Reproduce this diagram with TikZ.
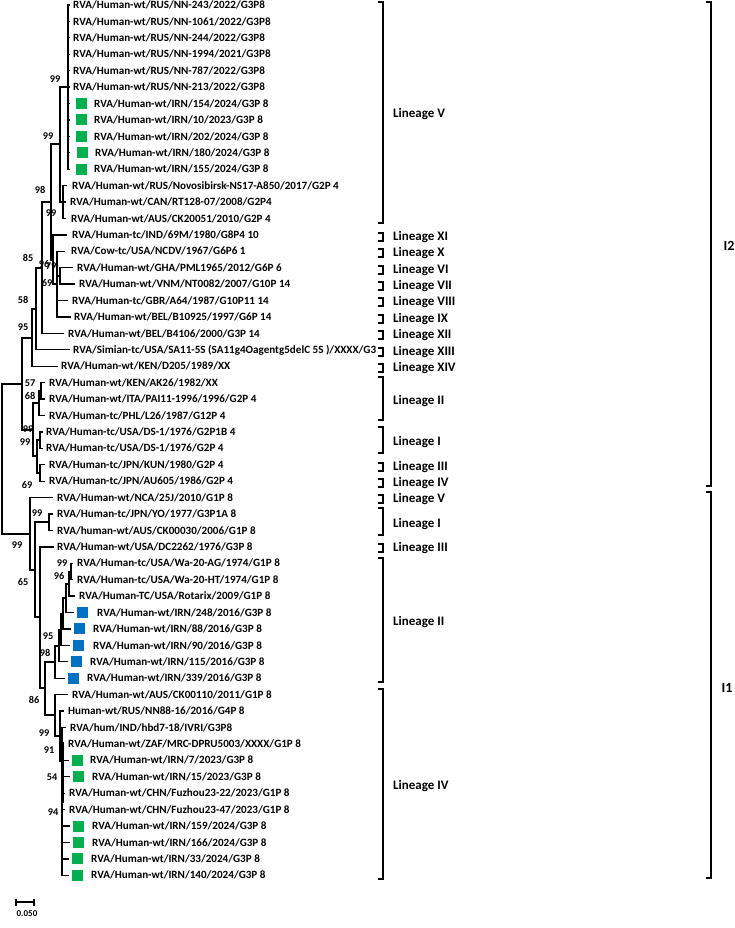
\documentclass[tikz,border=0pt]{standalone}
\usepackage{fontspec}
\setmainfont{Carlito}
\usetikzlibrary{calc}
\definecolor{sqgreen}{RGB}{0,176,80}
\definecolor{sqblue}{RGB}{0,112,192}
\newcommand{\Leaf}[4]{%
  \coordinate (t#1) at (#2,{5+16.42*(#1-1)});
  \node[leaf] (l#1) at (#3,{5+16.42*(#1-1)}) {#4};}
\newcommand{\Mark}[3]{%
  \node[#3] (s#1) at (#2,{5+16.42*(#1-1)}) {};}
\newcommand{\Brk}[4]{% name, x, top, bottom
  \draw[brk] (#2-5,#3) -- (#2,#3) -- (#2,#4) -- (#2-5,#4);}
\begin{document}
\begin{tikzpicture}[x=1pt,y=-1pt,
  br/.style={line width=1.3pt},
  brk/.style={line width=1.3pt},
  leaf/.style={anchor=west, inner sep=0pt, font=\bfseries\fontsize{11.1}{12}\selectfont},
  boot/.style={inner sep=0pt, font=\bfseries\fontsize{10.3}{12}\selectfont},
  lin/.style={anchor=west, inner sep=0pt, font=\bfseries\fontsize{13}{15}\selectfont},
  clade/.style={inner sep=0pt, font=\bfseries\fontsize{14}{16}\selectfont},
  gsq/.style={fill=sqgreen, draw=none, minimum size=11pt, inner sep=0pt, anchor=west},
  bsq/.style={fill=sqblue, draw=none, minimum size=11pt, inner sep=0pt, anchor=west}]
\useasboundingbox (0,0) rectangle (735,928);

% ---------------- leaves ----------------
\Leaf{1}{70}{73}{RVA/Human-wt/RUS/NN-243/2022/G3P8}
\Leaf{2}{70}{73}{RVA/Human-wt/RUS/NN-1061/2022/G3P8}
\Leaf{3}{70}{73}{RVA/Human-wt/RUS/NN-244/2022/G3P8}
\Leaf{4}{70}{73}{RVA/Human-wt/RUS/NN-1994/2021/G3P8}
\Leaf{5}{70}{73}{RVA/Human-wt/RUS/NN-787/2022/G3P8}
\Leaf{6}{70}{73}{RVA/Human-wt/RUS/NN-213/2022/G3P8}
\Leaf{7}{70}{94}{RVA/Human-wt/IRN/154/2024/G3P 8}
\Leaf{8}{70}{94}{RVA/Human-wt/IRN/10/2023/G3P 8}
\Leaf{9}{70}{94}{RVA/Human-wt/IRN/202/2024/G3P 8}
\Leaf{10}{70}{95}{RVA/Human-wt/IRN/180/2024/G3P 8}
\Leaf{11}{70}{94}{RVA/Human-wt/IRN/155/2024/G3P 8}
\Leaf{12}{67}{72}{RVA/Human-wt/RUS/Novosibirsk-NS17-A850/2017/G2P 4}
\Leaf{13}{66}{70}{RVA/Human-wt/CAN/RT128-07/2008/G2P4}
\Leaf{14}{66}{71}{RVA/Human-wt/AUS/CK20051/2010/G2P 4}
\Leaf{15}{67}{72}{RVA/Human-tc/IND/69M/1980/G8P4 10}
\Leaf{16}{65}{71}{RVA/Cow-tc/USA/NCDV/1967/G6P6 1}
\Leaf{17}{73}{77}{RVA/Human-wt/GHA/PML1965/2012/G6P 6}
\Leaf{18}{75}{79}{RVA/Human-wt/VNM/NT0082/2007/G10P 14}
\Leaf{19}{68}{72}{RVA/Human-tc/GBR/A64/1987/G10P11 14}
\Leaf{20}{71}{74}{RVA/Human-wt/BEL/B10925/1997/G6P 14}
\Leaf{21}{64}{68}{RVA/Human-wt/BEL/B4106/2000/G3P 14}
\Leaf{22}{70}{73}{RVA/Simian-tc/USA/SA11-5S (SA11g4Oagentg5delC 5S )/XXXX/G3}
\Leaf{23}{58}{61}{RVA/Human-wt/KEN/D205/1989/XX}
\Leaf{24}{45}{49}{RVA/Human-wt/KEN/AK26/1982/XX}
\Leaf{25}{45}{49}{RVA/Human-wt/ITA/PAI11-1996/1996/G2P 4}
\Leaf{26}{45}{49}{RVA/Human-tc/PHL/L26/1987/G12P 4}
\Leaf{27}{43}{46}{RVA/Human-tc/USA/DS-1/1976/G2P1B 4}
\Leaf{28}{43}{46}{RVA/Human-tc/USA/DS-1/1976/G2P 4}
\Leaf{29}{45}{49}{RVA/Human-tc/JPN/KUN/1980/G2P 4}
\Leaf{30}{45}{49}{RVA/Human-tc/JPN/AU605/1986/G2P 4}
\Leaf{31}{53}{57}{RVA/Human-wt/NCA/25J/2010/G1P 8}
\Leaf{32}{53}{57}{RVA/Human-tc/JPN/YO/1977/G3P1A 8}
\Leaf{33}{53}{57}{RVA/human-wt/AUS/CK00030/2006/G1P 8}
\Leaf{34}{54}{57}{RVA/Human-wt/USA/DC2262/1976/G3P 8}
\Leaf{35}{73}{77}{RVA/Human-tc/USA/Wa-20-AG/1974/G1P 8}
\Leaf{36}{73}{77}{RVA/Human-tc/USA/Wa-20-HT/1974/G1P 8}
\Leaf{37}{75}{79}{RVA/Human-TC/USA/Rotarix/2009/G1P 8}
\Leaf{38}{74}{97}{RVA/Human-wt/IRN/248/2016/G3P 8}
\Leaf{39}{71}{93}{RVA/Human-wt/IRN/88/2016/G3P 8}
\Leaf{40}{70}{93}{RVA/Human-wt/IRN/90/2016/G3P 8}
\Leaf{41}{68}{90}{RVA/Human-wt/IRN/115/2016/G3P 8}
\Leaf{42}{65}{87}{RVA/Human-wt/IRN/339/2016/G3P 8}
\Leaf{43}{68}{72}{RVA/Human-wt/AUS/CK00110/2011/G1P 8}
\Leaf{44}{64}{68}{Human-wt/RUS/NN88-16/2016/G4P 8}
\Leaf{45}{66}{70}{RVA/hum/IND/hbd7-18/IVRI/G3P8}
\Leaf{46}{64}{68}{RVA/Human-wt/ZAF/MRC-DPRU5003/XXXX/G1P 8}
\Leaf{47}{69}{90}{RVA/Human-wt/IRN/7/2023/G3P 8}
\Leaf{48}{70}{92}{RVA/Human-wt/IRN/15/2023/G3P 8}
\Leaf{49}{65}{69}{RVA/Human-wt/CHN/Fuzhou23-22/2023/G1P 8}
\Leaf{50}{65}{69}{RVA/Human-wt/CHN/Fuzhou23-47/2023/G1P 8}
\Leaf{51}{70}{92}{RVA/Human-wt/IRN/159/2024/G3P 8}
\Leaf{52}{70}{92}{RVA/Human-wt/IRN/166/2024/G3P 8}
\Leaf{53}{69}{91}{RVA/Human-wt/IRN/33/2024/G3P 8}
\Leaf{54}{69}{91}{RVA/Human-wt/IRN/140/2024/G3P 8}

% ---------------- markers ----------------
\Mark{7}{76}{gsq}\Mark{8}{76}{gsq}\Mark{9}{76}{gsq}\Mark{10}{77}{gsq}\Mark{11}{76}{gsq}
\Mark{38}{77}{bsq}\Mark{39}{74}{bsq}\Mark{40}{73}{bsq}\Mark{41}{71}{bsq}\Mark{42}{68}{bsq}
\Mark{47}{72}{gsq}\Mark{48}{73}{gsq}\Mark{51}{73}{gsq}\Mark{52}{73}{gsq}\Mark{53}{72}{gsq}\Mark{54}{72}{gsq}

% ---------------- internal nodes ----------------
\coordinate (NV) at (68,87);
\coordinate (NG2) at (63,202);
\coordinate (NA) at (60,144);
\coordinate (NE) at (60,276);
\coordinate (ND) at (57,284);
\coordinate (NC) at (53,260);
\coordinate (NB) at (51,202);
\coordinate (NF) at (42,268);
\coordinate (NG) at (36,309);
\coordinate (NH) at (32,338);
\coordinate (NK2) at (41,391);
\coordinate (NK) at (39,403);
\coordinate (NL1) at (40,440);
\coordinate (NL2) at (40,473);
\coordinate (NL) at (37,456);
\coordinate (NJ) at (33,430);
\coordinate (NI) at (22,384);
\coordinate (R) at (2,459);
\coordinate (A) at (30,534);
\coordinate (B) at (35,570);
\coordinate (C) at (49,522);
\coordinate (D) at (40,617);
\coordinate (E) at (45,688);
\coordinate (L1) at (71,572);
\coordinate (L2) at (69,584);
\coordinate (L3) at (66,598);
\coordinate (L4) at (63,614);
\coordinate (L5) at (61,630);
\coordinate (L6) at (59,646);
\coordinate (L7) at (55,662);
\coordinate (M1) at (55,715);
\coordinate (M2) at (60,736);
\coordinate (M3) at (62,761);

% ---------------- branches ----------------
\foreach \p/\c in {NV/t1,NV/t2,NV/t3,NV/t4,NV/t5,NV/t6,NV/t7,NV/t8,NV/t9,NV/t10,NV/t11,
  NG2/t12,NG2/t13,NG2/t14,NA/NV,NA/NG2,NE/t17,NE/t18,ND/t16,ND/NE,ND/t19,ND/t20,
  NC/t15,NC/ND,NB/NA,NB/NC,NF/NB,NF/t21,NG/NF,NG/t22,NH/NG,NH/t23,
  NK2/t24,NK2/t25,NK/NK2,NK/t26,NL1/t27,NL1/t28,NL2/t29,NL2/t30,NL/NL1,NL/NL2,
  NJ/NK,NJ/NL,NI/NH,NI/NJ,R/NI,R/A,
  A/t31,A/B,B/C,B/D,C/t32,C/t33,D/t34,D/E,E/L7,E/M1,
  L7/L6,L7/t42,L6/L5,L6/t41,L5/L4,L5/t40,L4/L3,L4/t39,L3/L2,L3/t38,L2/L1,L2/t37,L1/t35,L1/t36,
  M1/t43,M1/M2,M2/t44,M2/M3,M3/t45,M3/t46,M3/t47,M3/t48,M3/t49,M3/t50,M3/t51,M3/t52,M3/t53,M3/t54}
  \draw[br] (\p) |- (\c);
\draw[line width=2.6pt] (63,742) -- (63,803);

% ---------------- bootstrap values ----------------
\node[boot] (b1) at (55,79) {99};
\node[boot] (b2) at (48,136) {99};
\node[boot] (b3) at (40,190) {98};
\node[boot] (b4) at (51,213) {99};
\node[boot] (b5) at (28,258) {85};
\node[boot] (b6) at (44,264) {96};
\node[boot] (b7) at (51,266) {79};
\node[boot] (b8) at (47,283) {69};
\node[boot] (b9) at (23,300) {58};
\node[boot] (b10) at (23,327) {95};
\node[boot] (b11) at (30,383) {57};
\node[boot] (b12) at (30,396) {68};
\node[boot] (b13) at (28,429) {99};
\node[boot] (b14) at (25,442) {99};
\node[boot] (b15) at (27,485) {69};
\node[boot] (b16) at (37,513) {99};
\node[boot] (b17) at (17,545) {99};
\node[boot] (b18) at (62,563) {99};
\node[boot] (b19) at (59,576) {96};
\node[boot] (b20) at (23,582) {65};
\node[boot] (b21) at (48,636) {95};
\node[boot] (b22) at (45,653) {98};
\node[boot] (b23) at (34,700) {86};
\node[boot] (b24) at (44,733) {99};
\node[boot] (b25) at (49,750) {91};
\node[boot] (b26) at (52,777) {54};
\node[boot] (b27) at (53,812) {94};

% ---------------- lineage brackets ----------------
\Brk{bV}{383}{2}{223}     \node[lin] (gV) at (393,114) {Lineage V};
\Brk{bXI}{383}{233}{241}  \node[lin] (gXI) at (393,237) {Lineage XI};
\Brk{bX}{383}{249}{257}   \node[lin] (gX) at (393,253) {Lineage X};
\Brk{bVI}{383}{266}{274}  \node[lin] (gVI) at (393,270) {Lineage VI};
\Brk{bVII}{383}{282}{290} \node[lin] (gVII) at (393,286) {Lineage VII};
\Brk{bVIII}{383}{298}{306} \node[lin] (gVIII) at (393,302) {Lineage VIII};
\Brk{bIX}{383}{315}{323}  \node[lin] (gIX) at (393,319) {Lineage IX};
\Brk{bXII}{383}{331}{339} \node[lin] (gXII) at (393,335) {Lineage XII};
\Brk{bXIII}{383}{348}{356} \node[lin] (gXIII) at (393,352) {Lineage XIII};
\Brk{bXIV}{383}{364}{372} \node[lin] (gXIV) at (393,368) {Lineage XIV};
\Brk{bII}{383}{377}{420}  \node[lin] (gII) at (393,401) {Lineage II};
\Brk{bI}{383}{427}{453}   \node[lin] (gI) at (393,442) {Lineage I};
\Brk{bIII}{383}{463}{471} \node[lin] (gIII) at (393,467) {Lineage III};
\Brk{bIV}{383}{479}{487}  \node[lin] (gIV) at (393,483) {Lineage IV};
\Brk{cV}{383}{495}{503}   \node[lin] (hV) at (393,499) {Lineage V};
\Brk{cI}{383}{508}{535}   \node[lin] (hI) at (393,524) {Lineage I};
\Brk{cIII}{383}{544}{552} \node[lin] (hIII) at (393,548) {Lineage III};
\Brk{cII}{383}{558}{682}  \node[lin] (hII) at (393,622) {Lineage II};
\Brk{cIV}{383}{689}{879}  \node[lin] (hIV) at (393,786) {Lineage IV};

% ---------------- I2 / I1 ----------------
\Brk{kI2}{711}{2}{486}   \node[clade] (kI2t) at (729,246) {I2};
\Brk{kI1}{711}{492}{878} \node[clade] (kI1t) at (727,688) {I1};

% ---------------- scale bar ----------------
\coordinate (sb1) at (16,902);
\coordinate (sb2) at (34,902);
\draw[line width=1.2pt] (sb1) -- (sb2);
\draw[line width=1.2pt] ($(sb1)+(0,-3.5)$) -- ($(sb1)+(0,3.5)$);
\draw[line width=1.2pt] ($(sb2)+(0,-3.5)$) -- ($(sb2)+(0,3.5)$);
\node[inner sep=0pt, font=\bfseries\fontsize{9}{10}\selectfont] (sbl) at (27,914) {0.050};
\end{tikzpicture}
\end{document}
